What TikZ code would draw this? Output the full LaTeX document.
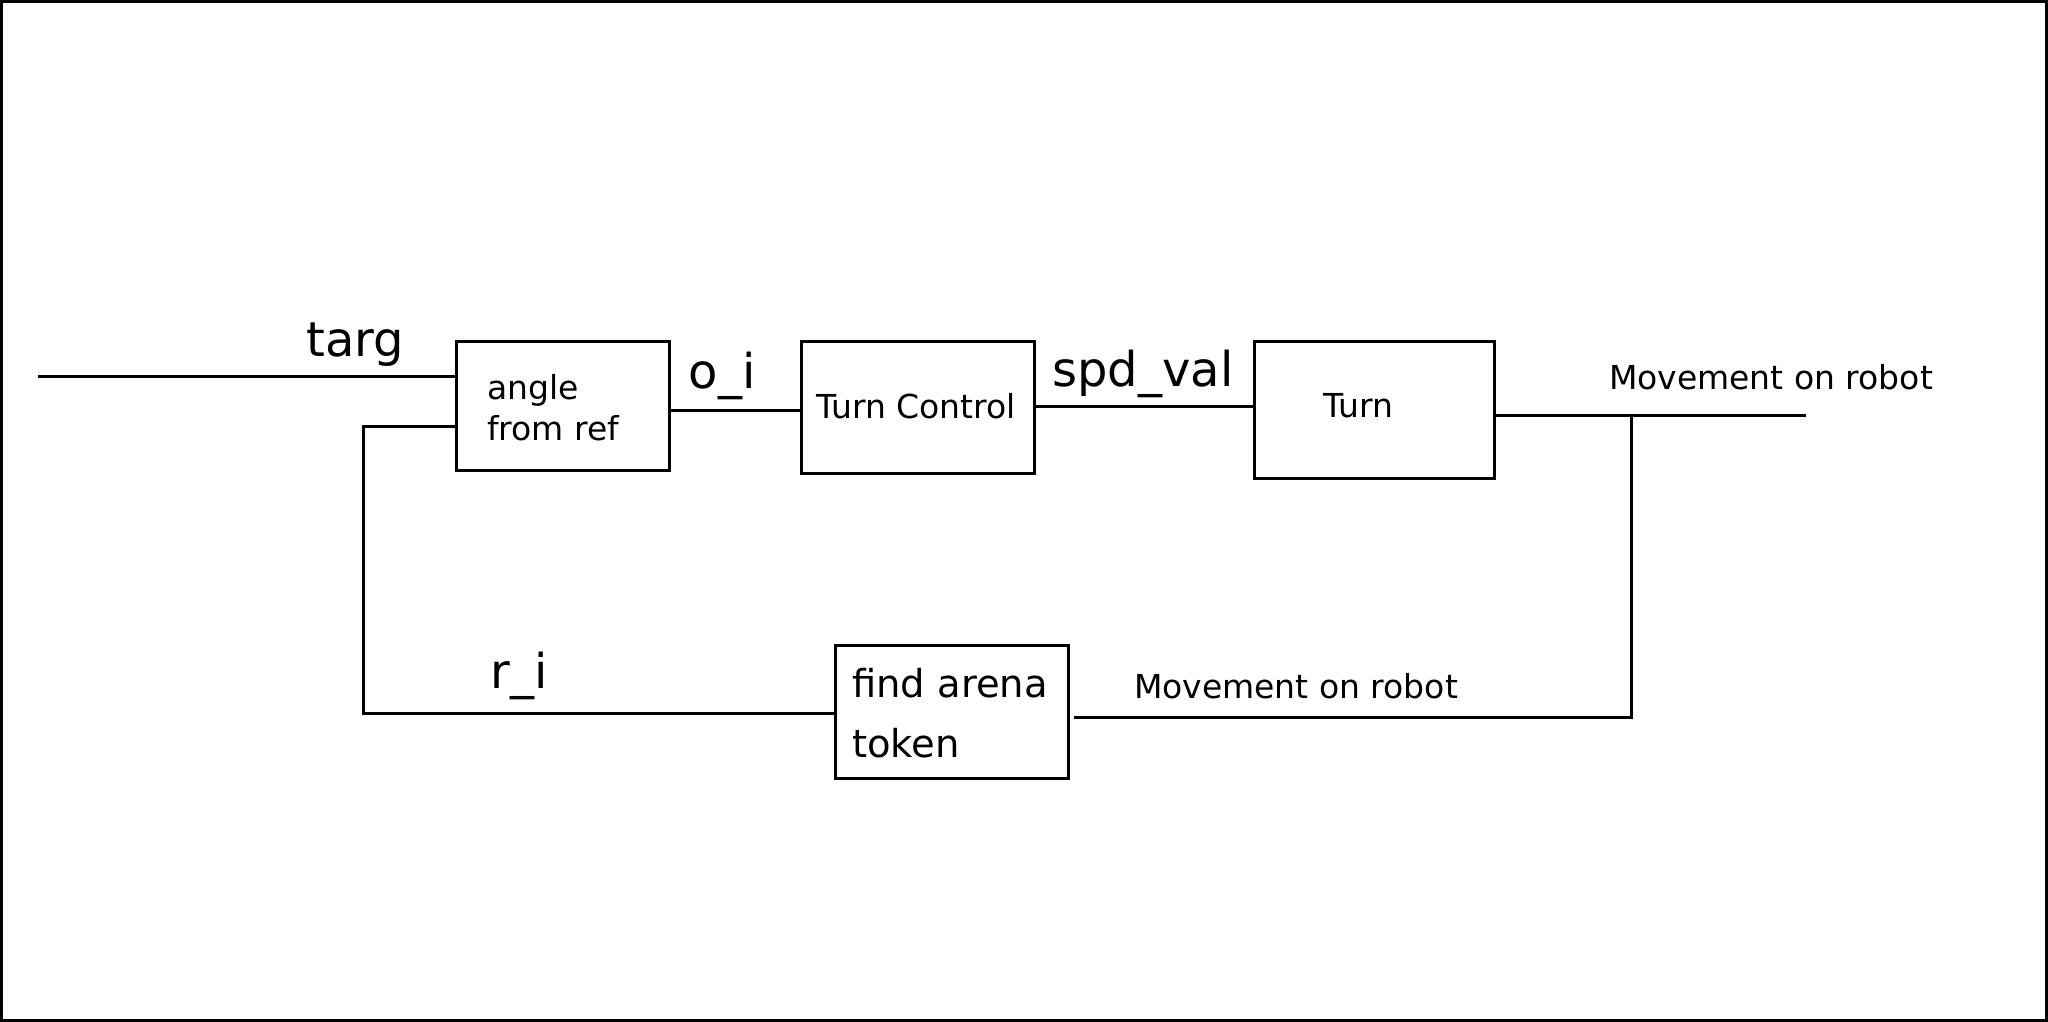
\documentclass[tikz,border=0pt]{standalone}
\usepackage{fontspec}
\setmainfont{DejaVu Sans}
\begin{document}
\begin{tikzpicture}[x=1pt,y=-1pt,
  box/.style={draw=black,line width=3pt,inner sep=0pt},
  wire/.style={draw=black,line width=3pt},
  big/.style={font=\fontsize{48}{56}\selectfont,inner sep=0pt},
  mid/.style={font=\fontsize{33}{41}\selectfont,inner sep=0pt},
  boxtext/.style={font=\fontsize{33}{41}\selectfont,inner sep=0pt,align=left},
]
\useasboundingbox (0,0) rectangle (2048,1022);
\draw[line width=3pt] (1.5,1.5) rectangle (2046.5,1020.5);

% boxes
\node[box,minimum width=213pt,minimum height=129pt] (b1) at (562.5,405.5) {};
\node[box,minimum width=233pt,minimum height=132pt] (b2) at (917.5,407) {};
\node[box,minimum width=240pt,minimum height=137pt] (b3) at (1374,409.5) {};
\node[box,minimum width=233pt,minimum height=133pt] (b4) at (951.5,711.5) {};

% box texts
\node[boxtext,anchor=west] (t1) at (487,408) {angle\\[0pt]from ref};
\node[mid] (t2) at (916,406) {Turn Control};
\node[mid] (t3) at (1358,406) {Turn};
\node[boxtext,anchor=west,font=\fontsize{38.5}{60}\selectfont] (t4) at (852,713) {find arena\\token};

% coordinates
\coordinate (targin) at (38,376);
\coordinate (fbin) at (363,426);
\coordinate (fbcorner) at (363,713);
\coordinate (outend) at (1806,415);
\coordinate (tap) at (1631,415);
\coordinate (tapdown) at (1631,717);
\coordinate (b4in) at (1074,717);

% wires
\draw[wire] (targin) -- (b1.west |- targin);
\draw[wire] (b1.west |- fbin) -- (fbin) -- (fbcorner) -- (b4.west |- fbcorner);
\draw[wire] (b1.east |- 0,410) -- (b2.west |- 0,410);
\draw[wire] (b2.east |- 0,406) -- (b3.west |- 0,406);
\draw[wire] (b3.east |- outend) -- (outend);
\draw[wire] (tap) -- (tapdown) -- (b4in);

% labels
\node[big] (ltarg) at (355,345) {targ};
\node[big] (loi) at (722,376) {o\_i};
\node[big] (lspd) at (1143,374) {spd\_val};
\node[big] (lri) at (519,676) {r\_i};
\node[mid] (lm1) at (1771,377) {Movement on robot};
\node[mid] (lm2) at (1296,686) {Movement on robot};
\end{tikzpicture}
\end{document}
